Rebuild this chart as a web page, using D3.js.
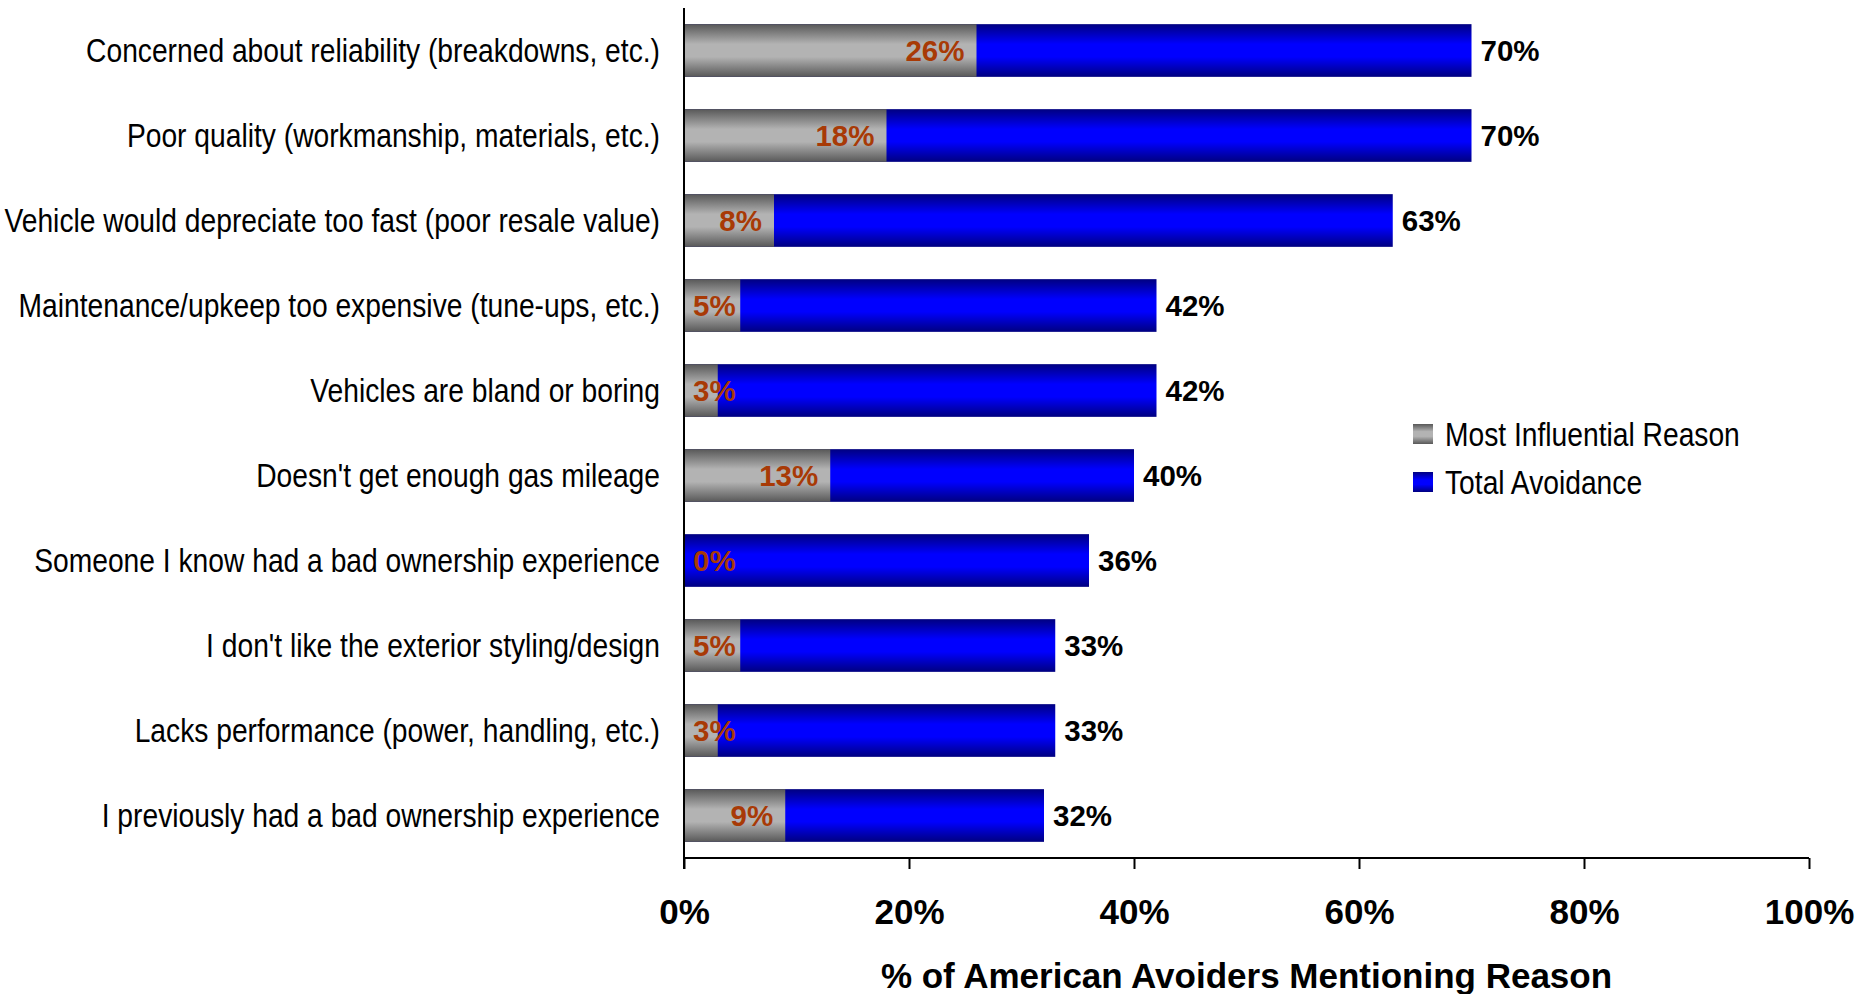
<!DOCTYPE html>
<html>
<head>
<meta charset="utf-8">
<script src="https://cdn.jsdelivr.net/npm/d3@7"></script>
<style>
  html, body { margin: 0; padding: 0; background: #fff; }
  svg { display: block; }
  .cat { font-family: "Liberation Sans", Arial, sans-serif; font-size: 34px; fill: #000; }
  .bold { font-family: "Liberation Sans", Arial, sans-serif; font-weight: bold; }
</style>
</head>
<body>
<svg id="chart" width="1869" height="994"></svg>
<script>
// Reasons for avoiding a brand, most mentioned first
const reasons = [
  "Concerned about reliability (breakdowns, etc.)",
  "Poor quality (workmanship, materials, etc.)",
  "Vehicle would depreciate too fast (poor resale value)",
  "Maintenance/upkeep too expensive (tune-ups, etc.)",
  "Vehicles are bland or boring",
  "Doesn't get enough gas mileage",
  "Someone I know had a bad ownership experience",
  "I don't like the exterior styling/design",
  "Lacks performance (power, handling, etc.)",
  "I previously had a bad ownership experience"
];
const mostInfluential = [26, 18, 8, 5, 3, 13, 0, 5, 3, 9];
const totalAvoidance  = [70, 70, 63, 42, 42, 40, 36, 33, 33, 32];
const xTicks = [0, 20, 40, 60, 80, 100];
const seriesNames = ["Most Influential Reason", "Total Avoidance"];
const axisTitle = "% of American Avoiders Mentioning Reason";

const rows = reasons.map((r, i) => ({ reason: r, most: mostInfluential[i], total: totalAvoidance[i] }));

const svg = d3.select("#chart");
const plot = { left: 684, right: 1809, top: 8, bottom: 858 };
const narrow = 0.83; // horizontal squeeze for the condensed label face

const x = d3.scaleLinear().domain([0, 100]).range([plot.left, plot.right]);
const y = d3.scaleBand().domain(reasons).range([plot.top, plot.bottom])
  .paddingInner(0.38).paddingOuter(0.19);

// Vertical shading used by the bars and the legend keys
const defs = svg.append("defs");
function shade(id, edge, mid) {
  const g = defs.append("linearGradient").attr("id", id)
    .attr("x1", 0).attr("y1", 0).attr("x2", 0).attr("y2", 1);
  [[0, edge], [0.38, mid], [0.62, mid], [1, edge]].forEach(([o, c]) =>
    g.append("stop").attr("offset", o).attr("stop-color", c));
}
shade("gradBlue", "#000080", "#0000ff");
shade("gradGray", "#585858", "#b3b3b3");

// Total avoidance bars from zero
svg.append("g").selectAll("rect").data(rows).join("rect")
  .attr("x", x(0)).attr("y", d => y(d.reason))
  .attr("width", d => x(d.total) - x(0)).attr("height", y.bandwidth())
  .attr("fill", "url(#gradBlue)");

// Most influential bars drawn over them
svg.append("g").selectAll("rect").data(rows.filter(d => d.most > 0)).join("rect")
  .attr("x", x(0)).attr("y", d => y(d.reason))
  .attr("width", d => x(d.most) - x(0)).attr("height", y.bandwidth())
  .attr("fill", "url(#gradGray)");

// Category labels
svg.append("g").selectAll("text").data(rows).join("text")
  .attr("class", "cat")
  .attr("transform", d => `translate(${plot.left - 24},${y(d.reason) + y.bandwidth() / 2}) scale(${narrow},1)`)
  .attr("dy", "0.34em")
  .attr("text-anchor", "end")
  .text(d => d.reason);

// Total value labels past the bar end
svg.append("g").selectAll("text").data(rows).join("text")
  .attr("class", "bold")
  .attr("font-size", 29.5)
  .attr("x", d => x(d.total) + 9)
  .attr("y", d => y(d.reason) + y.bandwidth() / 2)
  .attr("dy", "0.36em")
  .attr("fill", "#000")
  .text(d => d.total + "%");

// Most influential labels: inside the bar end, pushed right when the bar is short
const inner = svg.append("g").selectAll("text").data(rows).join("text")
  .attr("class", "bold")
  .attr("font-size", 29.5)
  .attr("y", d => y(d.reason) + y.bandwidth() / 2)
  .attr("dy", "0.36em")
  .attr("fill", "#A83A06")
  .text(d => d.most + "%");
inner.each(function (d) {
  const w = this.getComputedTextLength();
  const left = Math.max(x(d.most) - 12 - w, x(0) + 9);
  d3.select(this).attr("x", left);
});

// Bottom axis
const xAxis = d3.axisBottom(x).tickValues(xTicks).tickFormat(d => d + "%").tickSize(11).tickPadding(30);
const gx = svg.append("g").attr("transform", `translate(0,${plot.bottom})`).call(xAxis);
gx.select(".domain").attr("stroke", "#000").attr("stroke-width", 2).attr("d", `M${plot.left},0H${plot.right}`);
gx.selectAll(".tick line").attr("stroke", "#000").attr("stroke-width", 2);
gx.selectAll(".tick text")
  .attr("class", "bold").attr("font-size", 35).attr("fill", "#000")
  .attr("dy", "0.71em");

// Left axis line
svg.append("line")
  .attr("x1", plot.left).attr("x2", plot.left)
  .attr("y1", plot.top).attr("y2", plot.bottom + 11)
  .attr("stroke", "#000").attr("stroke-width", 2);

// Axis title
svg.append("text")
  .attr("class", "bold").attr("font-size", 35)
  .attr("x", (plot.left + plot.right) / 2).attr("y", 988)
  .attr("text-anchor", "middle").attr("fill", "#000")
  .text(axisTitle);

// Legend
const legend = svg.append("g").attr("transform", "translate(1413,434)");
const items = legend.selectAll("g").data(seriesNames).join("g")
  .attr("transform", (d, i) => `translate(0,${i * 48})`);
items.append("rect")
  .attr("x", 0).attr("y", -10).attr("width", 20).attr("height", 20)
  .attr("fill", (d, i) => i === 0 ? "url(#gradGray)" : "url(#gradBlue)");
items.append("text")
  .attr("class", "cat")
  .attr("transform", `translate(32,0) scale(${narrow},1)`)
  .attr("dy", "0.34em")
  .text(d => d);
</script>
</body>
</html>
